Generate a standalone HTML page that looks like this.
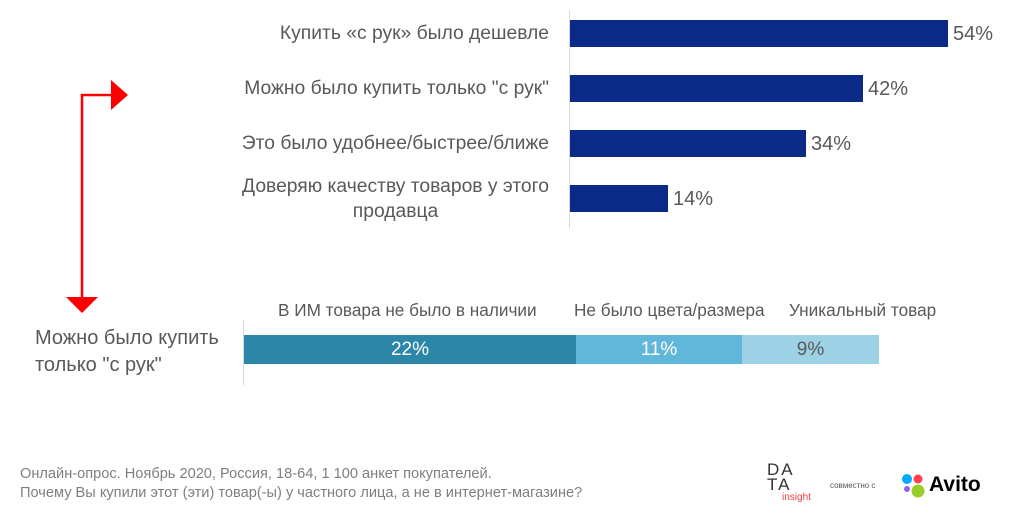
<!DOCTYPE html>
<html><head><meta charset="utf-8"><style>
body{margin:0;width:1024px;height:514px;background:#fff;position:relative;overflow:hidden;font-family:"Liberation Sans","DejaVu Sans",sans-serif;color:#595959}
.a{position:absolute;white-space:nowrap}
.l{position:absolute;right:475px;text-align:right;font-size:19.3px;line-height:25px}
.bar{position:absolute;left:570px;height:27px;background:#0b2a87}
.v{position:absolute;font-size:20px}
</style></head><body>
<div class="a" style="left:569px;top:10px;width:1px;height:218px;background:#d9d9d9"></div>
<div class="l" style="top:21px">Купить «с рук» было дешевле</div>
<div class="l" style="top:76px">Можно было купить только "с рук"</div>
<div class="l" style="top:131px">Это было удобнее/быстрее/ближе</div>
<div class="l" style="top:174px;text-align:center">Доверяю качеству товаров у этого<br>продавца</div>
<div class="bar" style="top:20px;width:378px"></div>
<div class="bar" style="top:75px;width:293px"></div>
<div class="bar" style="top:130px;width:236px"></div>
<div class="bar" style="top:185px;width:98px"></div>
<div class="v" style="left:953px;top:23px">54%</div>
<div class="v" style="left:868px;top:78px">42%</div>
<div class="v" style="left:811px;top:133px">34%</div>
<div class="v" style="left:673px;top:188px">14%</div>
<svg class="a" style="left:0;top:0" width="200" height="330">
<polyline points="82,297 82,95 112,95" fill="none" stroke="#f00" stroke-width="2.5"/>
<polygon points="111,80 128,95 111,110" fill="#f00"/>
<polygon points="66,297 98,297 82,313" fill="#f00"/>
</svg>
<div class="a" style="left:243px;top:320px;width:1px;height:65px;background:#d9d9d9"></div>
<div class="a" style="left:35px;top:325px;font-size:20px;line-height:27px">Можно было купить<br>только "с рук"</div>
<div class="a" style="left:278px;top:300px;font-size:17.2px">В ИМ товара не было в наличии</div>
<div class="a" style="left:574px;top:300px;font-size:17.2px">Не было цвета/размера</div>
<div class="a" style="left:789px;top:300px;font-size:17.2px">Уникальный товар</div>
<div class="a" style="left:244px;top:335px;width:332px;height:29px;background:#2b86a8;color:#fff;font-size:19px;line-height:29px;text-align:center">22%</div>
<div class="a" style="left:576px;top:335px;width:166px;height:29px;background:#61b7d9;color:#fff;font-size:19px;line-height:29px;text-align:center">11%</div>
<div class="a" style="left:742px;top:335px;width:137px;height:29px;background:#9dd1e5;color:#595959;font-size:19px;line-height:29px;text-align:center">9%</div>
<div class="a" style="left:20px;top:465px;font-size:14.6px;line-height:19px;color:#7f7f7f">Онлайн-опрос. Ноябрь 2020, Россия, 18-64, 1 100 анкет покупателей.<br>Почему Вы купили этот (эти) товар(-ы) у частного лица, а не в интернет-магазине?</div>
<div class="a" style="left:767px;top:462px;font-size:17px;line-height:15px;color:#333;letter-spacing:2px">DA<br>TA</div>
<div class="a" style="left:782px;top:492px;font-size:10px;color:#e8403a">insight</div>
<div class="a" style="left:830px;top:481px;font-size:8px;color:#555">совместно с</div>
<svg class="a" style="left:900px;top:472px" width="30" height="30">
<circle cx="7" cy="7" r="5" fill="#00aaff"/><circle cx="18" cy="7" r="4.5" fill="#ff4053"/>
<circle cx="7" cy="17" r="3" fill="#965eeb"/><circle cx="18" cy="19" r="6.5" fill="#97cf26"/>
</svg>
<div class="a" style="left:929px;top:473px;font-size:21px;font-weight:bold;color:#000">Avito</div>
</body></html>
